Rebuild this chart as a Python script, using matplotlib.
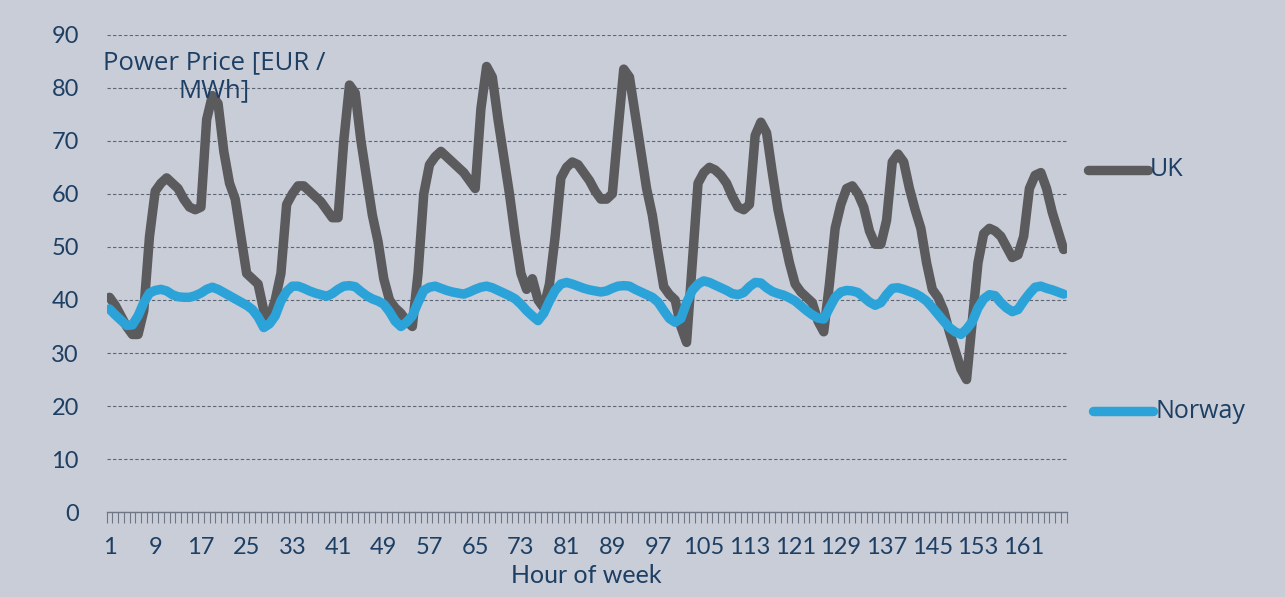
import matplotlib
matplotlib.use("Agg")
import matplotlib.pyplot as plt
from matplotlib.lines import Line2D

hours = list(range(1, 169))

uk = [40.5, 39, 37, 35, 33.5, 33.5, 38, 52, 60.5, 62, 63, 62, 61, 59, 57.5, 57, 57.5, 74, 78.5, 77,
      68, 62, 59, 52, 45, 44, 43, 38, 36.5, 40, 45, 58, 60, 61.5, 61.5, 60.5, 59.5, 58.5, 57, 55.5,
      55.5, 70, 80.5, 79, 70, 63, 56, 51, 44, 40, 38.5, 37.5, 36, 35, 45, 60, 65.5, 67, 68, 67,
      66, 65, 64, 62.5, 61, 76, 84, 82, 74, 67, 60, 52, 45, 42, 44, 40, 38.5, 43, 52, 63,
      65, 66, 65.5, 64, 62.5, 60.5, 59, 59, 60, 72, 83.5, 82, 75, 68, 61, 56, 49, 42.5, 41, 40,
      35, 32, 47, 62, 64, 65, 64.5, 63.5, 62, 59.5, 57.5, 57, 58, 71, 73.5, 71.5, 64, 57, 52, 47,
      43, 41.5, 40.5, 39.5, 36, 34, 43, 53.5, 58, 61, 61.5, 60, 57.5, 53, 50.5, 50.5, 55, 66, 67.5, 66,
      61, 57, 53.5, 47, 42, 40.5, 38, 34, 30.5, 27, 25, 36, 47, 52.5, 53.5, 53, 52, 50, 48, 48.5,
      52, 61, 63.5, 64, 61, 56.5, 53, 49.5]

norway = [38.3, 37.2, 36.2, 35.2, 35.3, 37, 39.5, 41.3, 41.8, 42, 41.7, 41, 40.6, 40.5, 40.5, 40.8, 41.3, 42, 42.4, 42,
          41.4, 40.8, 40.2, 39.6, 39, 38.2, 36.8, 34.8, 35.5, 37, 39.8, 41.6, 42.6, 42.6, 42.2, 41.7, 41.3, 41, 40.7, 41.2,
          42, 42.6, 42.7, 42.5, 41.6, 40.8, 40.2, 39.8, 39.2, 37.8, 36, 35, 35.8, 37, 39.5, 41.8, 42.4, 42.6, 42.2, 41.8,
          41.5, 41.3, 41.1, 41.5, 42, 42.4, 42.6, 42.3, 41.8, 41.3, 40.8, 40.2, 39.2, 38, 37, 36.1, 37.5, 39.8, 41.8, 43,
          43.3, 43, 42.6, 42.2, 41.9, 41.7, 41.5, 41.7, 42.2, 42.6, 42.7, 42.6, 42, 41.5, 41, 40.5, 39.6, 38, 36.5, 35.8,
          36.5, 39.5, 41.8, 43, 43.6, 43.3, 42.8, 42.3, 41.8, 41.2, 41, 41.4, 42.5, 43.3, 43.2, 42.3, 41.6, 41.2, 40.9, 40.4,
          39.8, 38.9, 38, 37.2, 36.6, 36.4, 38.5, 40.5, 41.5, 41.8, 41.7, 41.4, 40.5, 39.6, 39, 39.5, 41, 42.2, 42.3, 42,
          41.6, 41.2, 40.6, 39.8, 38.6, 37.3, 36, 34.8, 34, 33.5, 34.5, 35.9, 38.5, 40.2, 41, 40.8, 39.5, 38.5, 37.8, 38.2,
          39.8, 41.2, 42.4, 42.6, 42.2, 41.9, 41.5, 41.1]

xtick_labels = list(range(1, 168, 8))
yticks = list(range(0, 91, 10))

series_names = ["UK", "Norway"]
colors = ["#5b5b5d", "#2ba3d8"]
bg = "#c9cdd8"
txt = "#1d3f63"
fam = ["Lato", "DejaVu Sans"]

fig = plt.figure(figsize=(12.85, 5.97), dpi=100, facecolor=bg)
ax = fig.add_axes([0.083, 0.142, 0.747, 0.800])
ax.set_facecolor(bg)

ax.plot(hours, uk, color=colors[0], lw=6.8, solid_joinstyle="round", solid_capstyle="round", zorder=3)
ax.plot(hours, norway, color=colors[1], lw=6.8, solid_joinstyle="round", solid_capstyle="round", zorder=4)

ax.set_xlim(0.5, 168.5)
ax.set_ylim(0, 90)
ax.set_yticks(yticks)
ax.set_xticks(xtick_labels)
ax.set_xticks([i + 0.5 for i in range(0, 169)], minor=True)
ax.tick_params(axis="x", which="major", length=0, pad=18, labelsize=17, labelcolor=txt)
ax.tick_params(axis="x", which="minor", length=8, width=0.8, color="#6f7686", direction="out")
ax.tick_params(axis="y", length=0, pad=20, labelsize=17, labelcolor=txt)
for lab in ax.get_xticklabels() + ax.get_yticklabels():
    lab.set_fontfamily(fam)

ax.grid(axis="y", color="#5d6472", lw=0.8, ls=(0, (3, 2)))
ax.set_axisbelow(True)
for s in ["top", "right", "left"]:
    ax.spines[s].set_visible(False)
ax.spines["bottom"].set_color("#6f7686")
ax.spines["bottom"].set_linewidth(1.0)

ax.set_xlabel("Hour of week", fontsize=18, color=txt, family=fam, labelpad=4)

fig.text(214 / 1285, 1 - 77 / 597, "Power Price [EUR /\nMWh]", ha="center", va="center", fontsize=18.5,
         color=txt, family=["Open Sans", "DejaVu Sans"], linespacing=1.15)

# legend entries
leg_y = [1 - 170 / 597, 1 - 411 / 597]
leg_x0 = [1088 / 1285, 1093 / 1285]
for name, c, y, x0 in zip(series_names, colors, leg_y, leg_x0):
    fig.add_artist(Line2D([x0, x0 + 60 / 1285], [y, y], color=c, lw=6.8,
                          solid_capstyle="round", transform=fig.transFigure))
    fig.text(x0 + 62 / 1285, y, name, ha="left", va="center", fontsize=18, color=txt,
             family=["Open Sans", "DejaVu Sans"])

fig.savefig("out.png", dpi=100, facecolor=bg)
